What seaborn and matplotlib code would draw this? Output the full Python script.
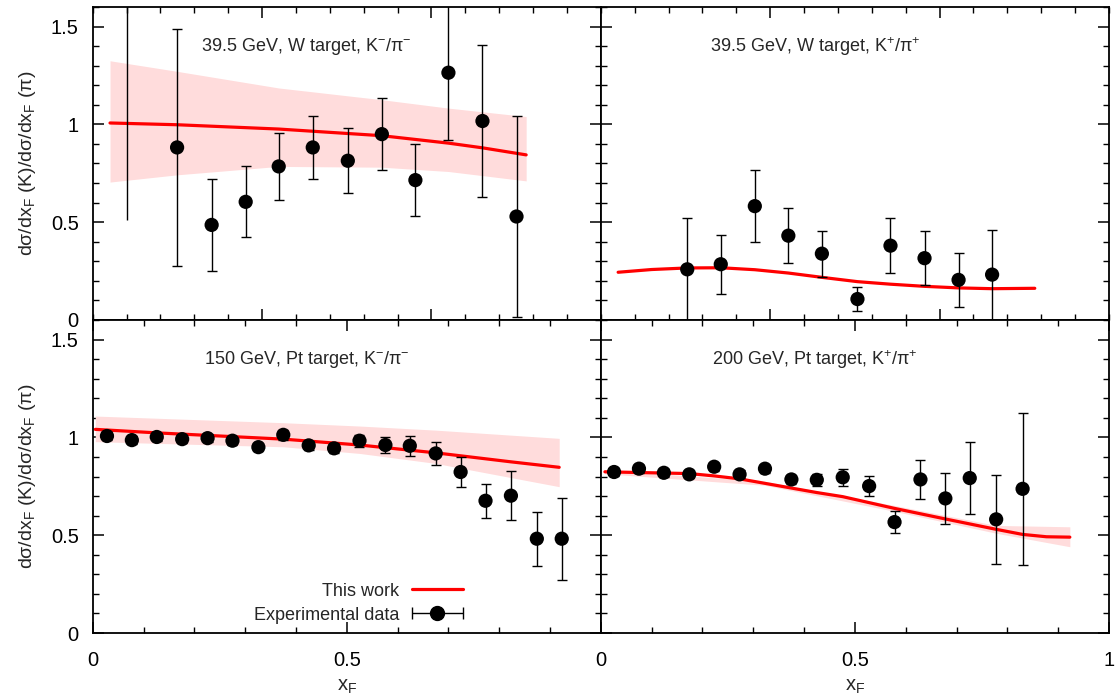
import numpy as np
import pandas as pd
import matplotlib
matplotlib.use("Agg")
import matplotlib.pyplot as plt
import seaborn as sns
from matplotlib.ticker import MultipleLocator, FuncFormatter, FixedLocator
from matplotlib.legend_handler import HandlerErrorbar
from matplotlib.container import ErrorbarContainer

# ---------------- data ----------------
# Panel 1: 39.5 GeV, W target, K-/pi-
p1_x = [0.166, 0.234, 0.301, 0.366, 0.433, 0.502, 0.569, 0.635, 0.700, 0.767, 0.834]
p1_y = [0.882, 0.486, 0.604, 0.785, 0.882, 0.814, 0.950, 0.715, 1.264, 1.017, 0.529]
p1_err = [0.605, 0.236, 0.182, 0.172, 0.161, 0.165, 0.183, 0.185, 0.345, 0.390, 0.515]
p1_off_x = [0.067]          # point above the frame
p1_off_y = [2.40]
p1_off_err = [1.89]
p1_mx = [0.034, 0.166, 0.366, 0.569, 0.700, 0.767, 0.853]
p1_my = [1.007, 0.998, 0.976, 0.942, 0.904, 0.880, 0.844]
p1_bx = [0.034, 0.166, 0.366, 0.569, 0.700, 0.853]
p1_blo = [0.705, 0.742, 0.785, 0.781, 0.759, 0.711]
p1_bhi = [1.325, 1.271, 1.186, 1.126, 1.083, 1.040]

# Panel 2: 39.5 GeV, W target, K+/pi+
p2_x = [0.170, 0.236, 0.303, 0.369, 0.435, 0.505, 0.570, 0.637, 0.704, 0.770]
p2_y = [0.259, 0.285, 0.582, 0.431, 0.339, 0.107, 0.380, 0.316, 0.205, 0.232]
p2_err = [0.260, 0.151, 0.184, 0.139, 0.118, 0.060, 0.140, 0.139, 0.137, 0.230]
p2_mx = [0.034, 0.100, 0.170, 0.236, 0.303, 0.369, 0.435, 0.505, 0.570, 0.637, 0.704, 0.770, 0.854]
p2_my = [0.244, 0.258, 0.266, 0.267, 0.257, 0.240, 0.218, 0.196, 0.183, 0.172, 0.164, 0.160, 0.162]

# Panel 3: 150 GeV, Pt target, K-/pi-
p3_x = [0.028, 0.077, 0.126, 0.176, 0.226, 0.275, 0.326, 0.375, 0.425, 0.475,
        0.525, 0.576, 0.624, 0.675, 0.724, 0.773, 0.823, 0.874, 0.923]
p3_y = [1.007, 0.986, 1.002, 0.991, 0.996, 0.983, 0.950, 1.013, 0.959, 0.944,
        0.983, 0.961, 0.957, 0.918, 0.823, 0.676, 0.702, 0.482, 0.482]
p3_err = [0.020, 0.020, 0.020, 0.020, 0.020, 0.020, 0.020, 0.025, 0.025, 0.025,
          0.030, 0.041, 0.052, 0.060, 0.077, 0.088, 0.124, 0.139, 0.209]
p3_mx = [0.005, 0.126, 0.375, 0.525, 0.675, 0.823, 0.918]
p3_my = [1.041, 1.023, 0.991, 0.961, 0.921, 0.875, 0.847]
p3_bx = [0.005, 0.375, 0.525, 0.675, 0.918]
p3_blo = [0.978, 0.952, 0.918, 0.867, 0.748]
p3_bhi = [1.109, 1.075, 1.058, 1.037, 0.995]

# Panel 4: 200 GeV, Pt target, K+/pi+
p4_x = [0.026, 0.075, 0.124, 0.174, 0.223, 0.273, 0.323, 0.375, 0.425,
        0.476, 0.528, 0.578, 0.629, 0.678, 0.726, 0.778, 0.830]
p4_y = [0.823, 0.840, 0.819, 0.811, 0.850, 0.811, 0.840, 0.785, 0.783,
        0.796, 0.751, 0.567, 0.785, 0.688, 0.792, 0.581, 0.737]
p4_err = [0.020, 0.020, 0.020, 0.020, 0.020, 0.020, 0.020, 0.025, 0.030,
          0.043, 0.050, 0.058, 0.098, 0.130, 0.185, 0.228, 0.390]
p4_mx = [0.008, 0.174, 0.223, 0.273, 0.323, 0.375, 0.425, 0.476, 0.578,
         0.678, 0.778, 0.830, 0.877, 0.923]
p4_my = [0.824, 0.815, 0.803, 0.788, 0.765, 0.741, 0.718, 0.697, 0.637,
         0.583, 0.530, 0.504, 0.492, 0.490]
p4_bx = [0.008, 0.323, 0.578, 0.778, 0.923]
p4_blo = [0.814, 0.755, 0.622, 0.510, 0.441]
p4_bhi = [0.834, 0.775, 0.652, 0.550, 0.543]

titles = ["39.5 GeV, W target, K$^{-}$/π$^{-}$",
          "39.5 GeV, W target, K$^{+}$/π$^{+}$",
          "150 GeV, Pt target, K$^{-}$/π$^{-}$",
          "200 GeV, Pt target, K$^{+}$/π$^{+}$"]
ylabel = "dσ/dx$_{\\mathrm{F}}$ (K)/dσ/dx$_{\\mathrm{F}}$ (π)"
xlabel = "x$_{\\mathrm{F}}$"

# ---------------- style ----------------
sns.set_theme(style="ticks")
plt.rcParams["font.family"] = ["Liberation Sans", "DejaVu Sans"]
plt.rcParams.update({
    "mathtext.fontset": "custom",
    "mathtext.rm": "Liberation Sans",
    "mathtext.it": "Liberation Sans:italic",
    "mathtext.bf": "Liberation Sans:bold",
    "mathtext.sf": "Liberation Sans",
    "axes.linewidth": 1.3,
    "axes.edgecolor": "black",
})

RED = "#ff0000"
BAND = "#ffdcdc"
FS = 13
TFS = 14.5

fig, axes = plt.subplots(2, 2, figsize=(11.16, 6.97), dpi=100)
fig.subplots_adjust(left=0.0831, right=0.9937, top=0.99, bottom=0.0918,
                    wspace=0, hspace=0)

panels = [
    dict(x=p1_x, y=p1_y, e=p1_err, mx=p1_mx, my=p1_my, bx=p1_bx, blo=p1_blo, bhi=p1_bhi),
    dict(x=p2_x, y=p2_y, e=p2_err, mx=p2_mx, my=p2_my, bx=None, blo=None, bhi=None),
    dict(x=p3_x, y=p3_y, e=p3_err, mx=p3_mx, my=p3_my, bx=p3_bx, blo=p3_blo, bhi=p3_bhi),
    dict(x=p4_x, y=p4_y, e=p4_err, mx=p4_mx, my=p4_my, bx=p4_bx, blo=p4_blo, bhi=p4_bhi),
]

fmt = FuncFormatter(lambda v, p: "%g" % round(v, 3))

for i, (ax, pn) in enumerate(zip(axes.flat, panels)):
    if pn["bx"] is not None:
        ax.fill_between(pn["bx"], pn["blo"], pn["bhi"], color=BAND, lw=0, zorder=1)
    df_m = pd.DataFrame({"x": pn["mx"], "y": pn["my"]})
    sns.lineplot(data=df_m, x="x", y="y", ax=ax, color=RED, lw=2.3, zorder=2,
                 sort=False, label="This work" if i == 2 else None)
    ax.errorbar(pn["x"], pn["y"], yerr=pn["e"], fmt="none", ecolor="black",
                elinewidth=1.0, capsize=3.5, capthick=1.0, zorder=3)
    df_p = pd.DataFrame({"x": pn["x"], "y": pn["y"]})
    sns.scatterplot(data=df_p, x="x", y="y", ax=ax, color="black", s=105,
                    edgecolor="none", zorder=4, legend=False)
    if i == 0:
        ax.errorbar(p1_off_x, p1_off_y, yerr=p1_off_err, fmt="o", color="black",
                    ms=10, elinewidth=1.0, capsize=0, zorder=3)

    ax.set_xlim(0, 1)
    ax.set_ylim(0, 1.6)
    ax.text(0.421, 0.874, titles[i], transform=ax.transAxes, ha="center",
            va="center", fontsize=FS)

    ax.tick_params(which="both", direction="in", top=True, right=True,
                   labelsize=TFS, colors="black")
    ax.tick_params(axis="x", which="both", pad=13)
    ax.tick_params(axis="y", which="both", pad=10)
    ax.tick_params(which="major", length=8, width=1.1)
    ax.tick_params(which="minor", length=4, width=1.0)
    ax.yaxis.set_major_locator(MultipleLocator(0.5))
    ax.yaxis.set_minor_locator(MultipleLocator(0.1))
    ax.yaxis.set_major_formatter(fmt)
    if i < 2:
        ax.xaxis.set_major_locator(FixedLocator([1 / 3, 2 / 3]))
        ax.xaxis.set_minor_locator(MultipleLocator(1 / 15))
        ax.tick_params(axis="x", labelbottom=False)
        ax.set_xlabel("")
    else:
        ax.xaxis.set_minor_locator(MultipleLocator(0.1))
        if i == 2:
            ax.set_xticks([0, 0.5, 1.0], ["0", "0.5", ""])
        else:
            ax.set_xticks([0, 0.5, 1.0], ["0", "0.5", "1"])
        ax.set_xlabel(xlabel, fontsize=TFS, labelpad=5)
    if i % 2 == 1:
        ax.tick_params(axis="y", labelleft=False)
        ax.set_ylabel("")
    else:
        ax.set_ylabel(ylabel, fontsize=14, labelpad=9)

# legend in lower-left panel
ax = axes[1, 0]
proxy = ax.errorbar([np.nan], [np.nan], xerr=[0.05], yerr=None, fmt="o",
                    color="black", ms=10, elinewidth=1.0, capsize=4,
                    label="Experimental data")
handles, labels = ax.get_legend_handles_labels()
leg = ax.legend(handles, labels, loc="lower right", bbox_to_anchor=(0.728, 0.03),
                frameon=False, markerfirst=False, fontsize=FS, handlelength=2.8,
                handletextpad=0.7, labelspacing=0.38, borderpad=0, borderaxespad=0,
                handler_map={ErrorbarContainer: HandlerErrorbar(xerr_size=1.4)})

fig.savefig("out.png", dpi=100)
